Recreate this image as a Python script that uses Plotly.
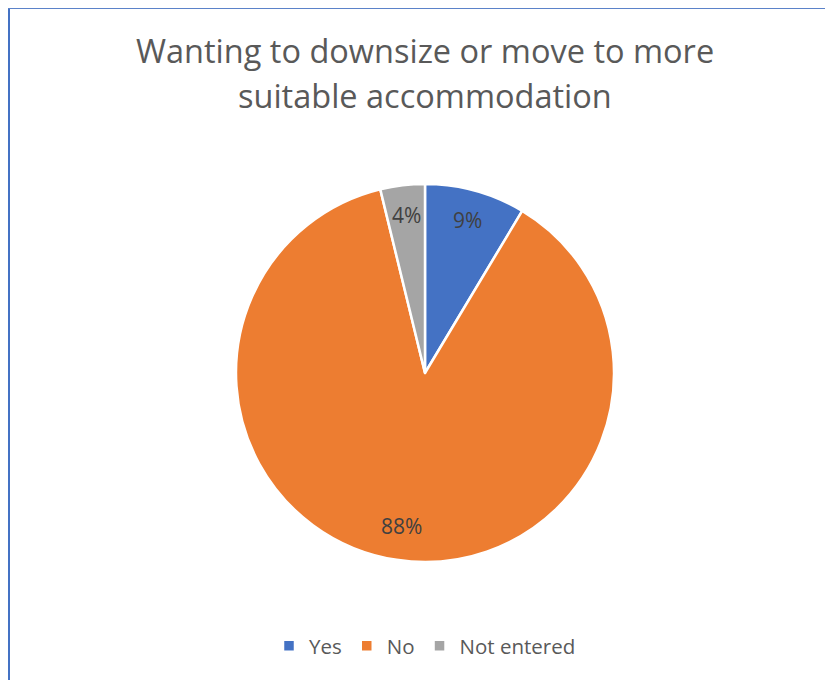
import math
import plotly.graph_objects as go

# Datos del gráfico
categories = ['Yes', 'No', 'Not entered']
values = [8.6, 87.6, 3.8]
colors = ['#4472C4', '#ED7D31', '#A5A5A5']
title_lines = ['Wanting to downsize or move to more', 'suitable accommodation']

W, H = 833, 680
OFF = 8  # la página HTML añade 8px de margen al body
cx, cy, r = 425 - OFF, 373 - OFF, 189


def px(x):
    return x / W


def py(y):
    return 1 - y / H


fig = go.Figure()

fig.add_trace(go.Pie(
    labels=categories,
    values=values,
    sort=False,
    direction='clockwise',
    rotation=0,
    marker=dict(colors=colors, line=dict(color='white', width=2.5)),
    textinfo='none',
    hoverinfo='label+percent',
    domain=dict(x=[px(cx - r), px(cx + r)], y=[py(cy + r), py(cy - r)]),
))

# Etiquetas de porcentaje cerca del borde exterior de cada porción
total = sum(values)
start = 0.0
for v in values:
    mid = (start + v / 2) / total * 2 * math.pi
    start += v
    frac = 0.84 if v / total < 0.5 else 0.82
    x = cx + frac * r * math.sin(mid)
    y = cy - frac * r * math.cos(mid)
    fig.add_annotation(
        x=px(x), y=py(y), xref='paper', yref='paper',
        xanchor='center', yanchor='middle',
        text=f'{round(v / total * 100)}%', showarrow=False,
        font=dict(size=21, color='#404040', family='Open Sans'),
    )

# Título en dos líneas
for i, line in enumerate(title_lines):
    fig.add_annotation(
        x=px(425 - OFF), y=py(50 - OFF + i * 45), xref='paper', yref='paper',
        xanchor='center', yanchor='middle',
        text=line, showarrow=False,
        font=dict(size=32.5, color='#595959', family='Open Sans'),
    )

# Borde del área del gráfico (izquierda y arriba visibles)
fig.add_shape(
    type='line', xref='paper', yref='paper',
    x0=px(1), x1=px(1), y0=-0.02, y1=py(0),
    line=dict(color='#4472C4', width=2),
)
fig.add_shape(
    type='line', xref='paper', yref='paper',
    x0=px(0), x1=1.02, y0=py(0.5), y1=py(0.5),
    line=dict(color='#5B82C9', width=1),
)

fig.update_layout(
    legend=dict(
        orientation='h', x=px(425 - OFF), xanchor='center', y=py(646 - OFF), yanchor='middle',
        font=dict(size=20.5, color='#595959', family='Open Sans'),
        itemwidth=30,
    ),
    width=W, height=H,
    margin=dict(l=0, r=0, t=0, b=0),
    paper_bgcolor='white',
)

fig.write_html('out.html')
